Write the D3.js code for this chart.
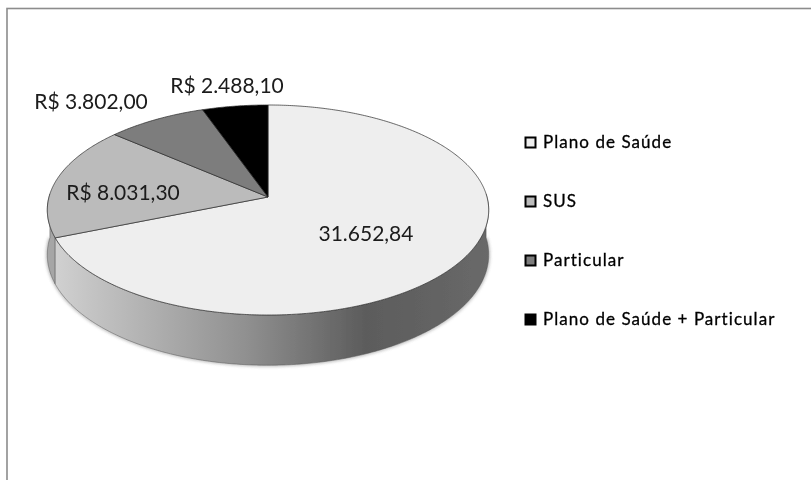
<!DOCTYPE html>
<html><head><meta charset="utf-8">
<script src="https://cdn.jsdelivr.net/npm/d3@7"></script>
<style>html,body{margin:0;padding:0;background:#fff}svg{display:block}text{font-family:Lato,"Open Sans",sans-serif}</style>
</head><body>
<svg id="c" width="811" height="480"></svg>
<script>
const categories = ["Plano de Saúde","SUS","Particular","Plano de Saúde + Particular"];
const values = [31652.84,8031.30,3802.00,2488.10];
const valueLabels = ["31.652,84","R$ 8.031,30","R$ 3.802,00","R$ 2.488,10"];
const colors = ["#eeeeee","#bbbbbb","#7d7d7d","#000000"];

const W=811,H=480, cx=268, cy=197, a=219, b=103.4, k=0.1238, depth=44;
const svg=d3.select("#c");
const defs=svg.append("defs");
const blur=defs.append("filter").attr("id","soft").attr("x","-5%").attr("y","-5%").attr("width","110%").attr("height","110%");
blur.append("feGaussianBlur").attr("stdDeviation",0.45);
const shadow=defs.append("filter").attr("id","sh").attr("x","-5%").attr("y","-5%").attr("width","110%").attr("height","115%");
shadow.append("feGaussianBlur").attr("stdDeviation",1.5);
const grad=defs.append("linearGradient").attr("id","wall").attr("gradientUnits","userSpaceOnUse")
  .attr("x1",46).attr("x2",490).attr("y1",0).attr("y2",0);
[[0,"#d4d4d4"],[0.1,"#c4c4c4"],[0.45,"#909090"],[0.72,"#5c5c5c"],[1,"#696969"]].forEach(([o,c])=>grad.append("stop").attr("offset",o).attr("stop-color",c));

// perspective projection of a disc: theta clockwise from 12 o'clock
const proj=(t,down=0)=>{const u=Math.sin(t),v=-Math.cos(t),s=1-k*v;
  return [cx+a*u/s, cy+b*v/s+(down?depth/s:0)];};
const range=(t0,t1)=>{const n=Math.max(2,Math.ceil(Math.abs(t1-t0)/0.01));return d3.range(n+1).map(i=>t0+(t1-t0)*i/n);};
const line=d3.line();
const arcs=d3.pie().sort(null).value(d=>d)(values);

svg.append("rect").attr("x",7).attr("y",8.5).attr("width",W+20).attr("height",H+20)
  .attr("fill","#fff").attr("stroke","#8c8c8c").attr("stroke-width",1.6);

const g=svg.append("g").attr("filter","url(#soft)");

// side wall visible from the first slice edge round the front
const T0=Math.PI/2-0.03, T1=arcs[0].endAngle;
const TL=3*Math.PI/2+0.03;
const wallPts=(t0,t1)=>[...range(t0,t1).map(t=>proj(t)),...range(t1,t0).map(t=>proj(t,1))];
g.append("path").attr("d",line(range(T0,TL).map(t=>proj(t,1)))+"").attr("fill","none")
  .attr("stroke","#777").attr("stroke-width",2.5).attr("opacity",.55).attr("filter","url(#sh)");
g.append("path").attr("d",line(wallPts(T1,TL))+"Z").attr("fill","#a6a6a6").attr("stroke","#555").attr("stroke-width",.5);
g.append("path").attr("d",line(wallPts(T0,T1))+"Z").attr("fill","url(#wall)").attr("stroke","#555").attr("stroke-width",.5);

// top face slices
g.selectAll("path.slice").data(arcs).join("path").attr("class","slice")
  .attr("d",d=>line([[cx,cy],...range(d.startAngle,d.endAngle).map(t=>proj(t))])+"Z")
  .attr("fill",(d,i)=>colors[i]).attr("stroke","#2a2a2a").attr("stroke-width",.7).attr("stroke-linejoin","round");

// value labels
const labelPos=[[366,234],[123,193],[91,102],[227,86]];
g.selectAll("text.val").data(valueLabels).join("text").attr("class","val")
  .attr("x",(d,i)=>labelPos[i][0]).attr("y",(d,i)=>labelPos[i][1]).attr("dy","0.35em")
  .attr("text-anchor","middle").attr("font-size",21).attr("fill","#1a1a1a").text(d=>d);

// legend
const ly=d3.scalePoint().domain(categories).range([142,319]);
const leg=g.selectAll("g.l").data(categories).join("g").attr("class","l")
  .attr("transform",d=>`translate(525,${ly(d)})`);
leg.append("rect").attr("x",0.5).attr("y",-4.5).attr("width",10).attr("height",10)
  .attr("fill",(d,i)=>colors[i]).attr("stroke","#000").attr("stroke-width",2);
leg.append("text").attr("x",18).attr("dy","0.35em").attr("font-size",17).attr("letter-spacing",1.05)
  .attr("stroke","#000").attr("stroke-width",.3).attr("fill","#000").text(d=>d);
</script>
</body></html>
